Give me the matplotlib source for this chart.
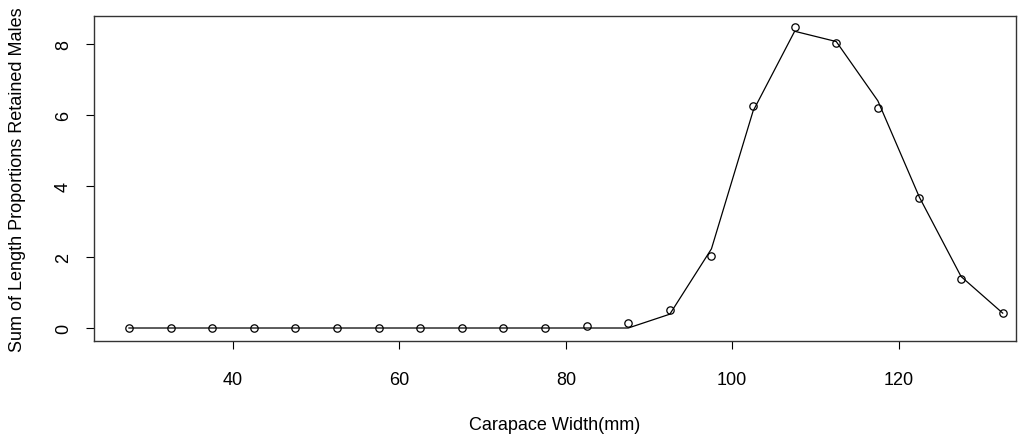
import matplotlib
matplotlib.use("Agg")
import matplotlib.pyplot as plt

plt.rcParams['font.family'] = ['Liberation Sans', 'DejaVu Sans']

width_mm = [27.5, 32.5, 37.5, 42.5, 47.5, 52.5, 57.5, 62.5, 67.5, 72.5, 77.5,
            82.5, 87.5, 92.5, 97.5, 102.5, 107.5, 112.5, 117.5, 122.5, 127.5, 132.5]
observed = [0.0, 0.0, 0.0, 0.0, 0.0, 0.0, 0.0, 0.0, 0.0, 0.0, 0.0,
            0.05, 0.14, 0.52, 2.02, 6.26, 8.47, 8.04, 6.19, 3.66, 1.38, 0.42]
fitted = [0.0, 0.0, 0.0, 0.0, 0.0, 0.0, 0.0, 0.0, 0.0, 0.0, 0.0,
          0.0, 0.0, 0.39, 2.23, 6.11, 8.36, 8.07, 6.40, 3.68, 1.45, 0.42]
x_ticks = [40, 60, 80, 100, 120]
y_ticks = [0, 2, 4, 6, 8]

fig = plt.figure(figsize=(10.28, 4.39), dpi=100)
ax = fig.add_axes([94/1028, 1 - 342/439, (1016-94)/1028, (342-17)/439])

ax.plot(width_mm, fitted, color='black', lw=0.9)
ax.plot(width_mm, observed, linestyle='none', marker='o', markersize=5.3,
        markerfacecolor='none', markeredgecolor='black', markeredgewidth=0.9)

ax.set_xlim(23.3, 134.1)
ax.set_ylim(-0.366, 8.79)
ax.set_xticks(x_ticks)
ax.set_yticks(y_ticks)
ax.tick_params(axis='both', direction='out', length=5.5, width=0.8, labelsize=13)
ax.tick_params(axis='x', pad=16)
ax.tick_params(axis='y', pad=10.5)
for lbl in ax.get_yticklabels():
    lbl.set_rotation(90)
    lbl.set_va('center')
for s in ax.spines.values():
    s.set_linewidth(1.0)
    s.set_color('#333333')

ax.set_xlabel('Carapace Width(mm)', fontsize=13, labelpad=20)
ax.set_ylabel('Sum of Length Proportions Retained Males', fontsize=13, labelpad=21)

fig.savefig('out.png', dpi=100)
